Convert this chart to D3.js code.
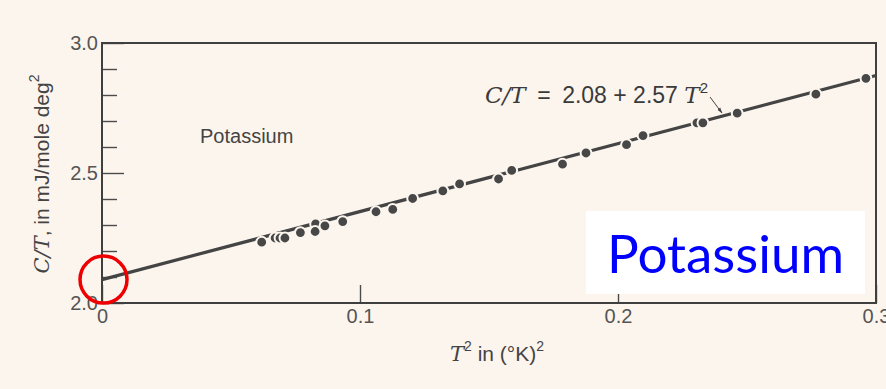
<!DOCTYPE html>
<html>
<head>
<meta charset="utf-8">
<script src="https://cdn.jsdelivr.net/npm/d3@7"></script>
<style>
  html, body { margin: 0; padding: 0; background: #fcf5ee; }
  svg { display: block; }
  .axis text { font-family: "Liberation Sans", Arial, sans-serif; font-size: 20px; fill: #555; }
  .axis line { stroke: #4a4a4a; stroke-width: 1.4; }
  .axis path { display: none; }
</style>
</head>
<body>
<svg id="chart" width="886" height="389"></svg>
<script>
// data: T^2 (K^2) vs C/T (mJ/mole deg^2)
const tSquared = [0.0619, 0.0671, 0.0690, 0.0709, 0.0769, 0.0828, 0.0826, 0.0864, 0.0933,
  0.1062, 0.1127, 0.1204, 0.1321, 0.1386, 0.1537, 0.1588, 0.1785, 0.1876, 0.2033, 0.2097,
  0.2306, 0.2329, 0.2462, 0.2767, 0.2961];
const cOverT = [2.234, 2.250, 2.250, 2.250, 2.271, 2.304, 2.275, 2.297, 2.313,
  2.351, 2.360, 2.402, 2.431, 2.458, 2.477, 2.510, 2.534, 2.577, 2.609, 2.644,
  2.693, 2.693, 2.730, 2.803, 2.864];
// fitted line endpoints
const fitX = [0, 0.3];
const fitY = [2.09, 2.875];

const xTicks = [0, 0.1, 0.2, 0.3];
const yLabelTicks = [2.0, 2.5, 3.0];
const yMinorTicks = [2.1, 2.2, 2.3, 2.4, 2.6, 2.7, 2.8, 2.9];

const svg = d3.select("#chart");
const x = d3.scaleLinear().domain([0, 0.3]).range([102, 876]);
const y = d3.scaleLinear().domain([2, 3]).range([303, 43]);

// minor y ticks (inside)
svg.append("g").attr("class", "axis")
  .attr("transform", `translate(${x(0)},0)`)
  .call(d3.axisLeft(y).tickValues(yMinorTicks).tickSize(-15).tickFormat(""));

// labelled y ticks
svg.append("g").attr("class", "axis")
  .attr("transform", `translate(${x(0)},0)`)
  .call(d3.axisLeft(y).tickValues(yLabelTicks).tickSize(-22).tickPadding(4).tickFormat(d3.format(".1f")));

// x ticks
svg.append("g").attr("class", "axis")
  .attr("transform", `translate(0,${y(2)})`)
  .call(d3.axisBottom(x).tickValues(xTicks).tickSize(-18).tickPadding(6)
    .tickFormat(d => d === 0 ? "0" : d3.format(".1f")(d)));

// frame
svg.append("rect")
  .attr("x", x(0)).attr("y", y(3))
  .attr("width", x(0.3) - x(0)).attr("height", y(2) - y(3))
  .attr("fill", "none").attr("stroke", "#3f3f3f").attr("stroke-width", 2);

// fit line
const line = d3.line().x(d => x(d[0])).y(d => y(d[1]));
svg.append("path")
  .datum(d3.zip(fitX, fitY))
  .attr("d", line)
  .attr("fill", "none").attr("stroke", "#444").attr("stroke-width", 3.2);

// points (halo gives the broken-line look)
svg.append("g").selectAll("circle")
  .data(d3.zip(tSquared, cOverT))
  .join("circle")
  .attr("cx", d => x(d[0])).attr("cy", d => y(d[1]))
  .attr("r", 5.4)
  .attr("fill", "#474747")
  .attr("stroke", "#fcf5ee").attr("stroke-width", 2);

// inner label
svg.append("text")
  .attr("x", 200).attr("y", 143)
  .attr("font-family", "Liberation Sans, Arial, sans-serif")
  .attr("font-size", 20).attr("fill", "#444")
  .text("Potassium");

// equation
const eq = svg.append("text")
  .attr("x", 485).attr("y", 103)
  .attr("font-size", 23).attr("fill", "#3a3a3a");
eq.append("tspan").attr("font-family", "DejaVu Serif, serif").attr("font-style", "italic").text("C/T");
eq.append("tspan").attr("font-family", "Liberation Sans, Arial, sans-serif")
  .text("\u2002=\u20022.08 + 2.57 ");
eq.append("tspan").attr("font-family", "DejaVu Serif, serif").attr("font-style", "italic").text("T");
eq.append("tspan").attr("font-family", "Liberation Sans, Arial, sans-serif")
  .attr("font-size", 15).attr("dy", -10).text("2");

// arrow
svg.append("defs").append("marker")
  .attr("id", "ah").attr("viewBox", "0 0 10 10")
  .attr("refX", 9).attr("refY", 5)
  .attr("markerWidth", 6).attr("markerHeight", 6)
  .attr("orient", "auto")
  .append("path").attr("d", "M0,2 L10,5 L0,8 Z").attr("fill", "#444");
svg.append("line")
  .attr("x1", 710).attr("y1", 97).attr("x2", 722).attr("y2", 113)
  .attr("stroke", "#444").attr("stroke-width", 1)
  .attr("marker-end", "url(#ah)");

// y axis title
const yt = svg.append("text")
  .attr("transform", "translate(49,174) rotate(-90)")
  .attr("text-anchor", "middle")
  .attr("font-size", 21).attr("fill", "#444");
yt.append("tspan").attr("font-family", "DejaVu Serif, serif").attr("font-style", "italic").text("C/T");
yt.append("tspan").attr("font-family", "Liberation Sans, Arial, sans-serif").text(", in mJ/mole deg");
yt.append("tspan").attr("font-family", "Liberation Sans, Arial, sans-serif")
  .attr("font-size", 14).attr("dy", -10).text("2");

// x axis title
const xt = svg.append("text")
  .attr("x", 497).attr("y", 361)
  .attr("text-anchor", "middle")
  .attr("font-size", 21).attr("fill", "#444");
xt.append("tspan").attr("font-family", "DejaVu Serif, serif").attr("font-style", "italic").text("T");
xt.append("tspan").attr("font-family", "Liberation Sans Narrow, Liberation Sans, sans-serif")
  .attr("font-size", 14).attr("dy", -10).text("2");
xt.append("tspan").attr("font-family", "Liberation Sans Narrow, Liberation Sans, sans-serif")
  .attr("dy", 10).text(" in (°K)");
xt.append("tspan").attr("font-family", "Liberation Sans Narrow, Liberation Sans, sans-serif")
  .attr("font-size", 14).attr("dy", -10).text("2");

// big label box
svg.append("rect")
  .attr("x", 586).attr("y", 211).attr("width", 279).attr("height", 83)
  .attr("fill", "#fff");
svg.append("text")
  .attr("x", 607).attr("y", 273)
  .attr("font-family", "Lato, Open Sans, sans-serif")
  .attr("font-size", 53).attr("fill", "#0000ff")
  .text("Potassium");

// red circle highlighting the intercept
svg.append("circle")
  .attr("cx", x(0) + 1.5).attr("cy", y(fitY[0]))
  .attr("r", 23.5)
  .attr("fill", "none").attr("stroke", "#ee0000").attr("stroke-width", 3.5);
</script>
</body>
</html>
